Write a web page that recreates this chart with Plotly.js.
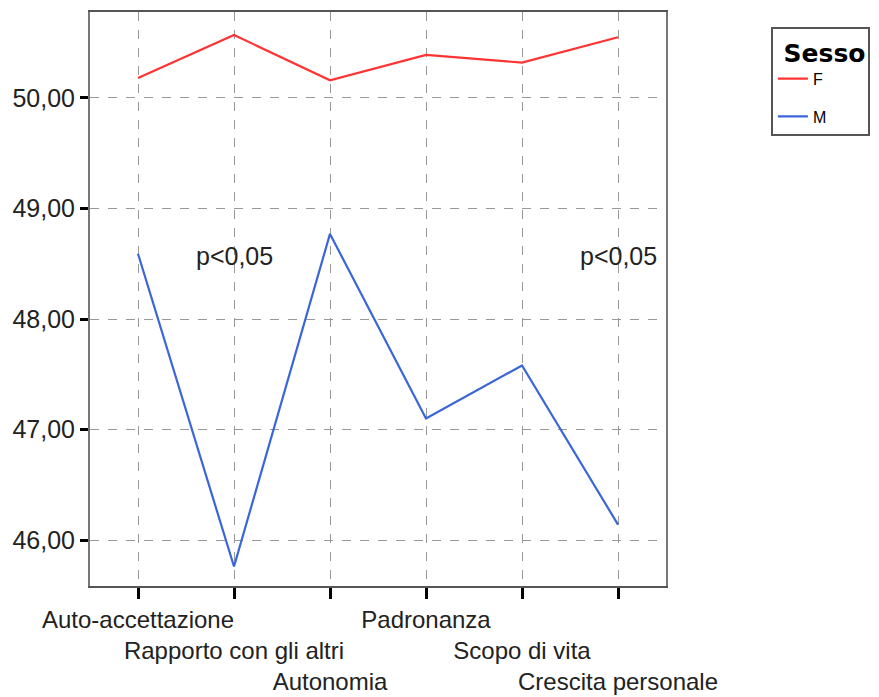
<!DOCTYPE html>
<html>
<head>
<meta charset="utf-8">
<script src="https://cdn.plot.ly/plotly-3.0.1.min.js"></script>
<style>html,body{margin:0;padding:0;background:#fff;}#chart{width:879px;height:697px;}</style>
</head>
<body>
<div id="chart"></div>
<script>
var categories = ["Auto-accettazione", "Rapporto con gli altri", "Autonomia", "Padronanza", "Scopo di vita", "Crescita personale"];
var tickRows = [0, 1, 2, 0, 1, 2];
var valuesF = [50.18, 50.57, 50.16, 50.39, 50.32, 50.55];
var valuesM = [48.59, 45.76, 48.77, 47.10, 47.58, 46.14];
var seriesNames = ["F", "M"];
var yTicks = [46, 47, 48, 49, 50];
var notes = [{cat: 1, y: 48.57, text: "p<0,05"}, {cat: 5, y: 48.57, text: "p<0,05"}];

var idx = categories.map(function(c, i){ return i; });
var ticktext = categories.map(function(c, i){
  var pre = ""; for (var k = 0; k < tickRows[i]; k++) pre += "<br>";
  return pre + c;
});
var FONT = "Liberation Sans, Arial, sans-serif";

var traces = [
  {x: idx, y: valuesF, name: seriesNames[0], legendgroup: "F", type: "scatter", mode: "lines",
   line: {color: "#ff3333", width: 2.2}},
  {x: idx, y: valuesM, name: seriesNames[1], legendgroup: "M", type: "scatter", mode: "lines",
   line: {color: "#3a66d9", width: 2.2}}
];

var annotations = notes.map(function(n){
  return {x: n.cat, y: n.y, xref: "x", yref: "y", text: n.text, showarrow: false,
          font: {family: FONT, size: 25, color: "#222"}, xanchor: "center", yanchor: "middle"};
});

var layout = {
  width: 879, height: 697,
  margin: {l: 90, r: 213, t: 12, b: 111, pad: 0, autoexpand: false},
  paper_bgcolor: "#ffffff", plot_bgcolor: "#ffffff",
  separators: ",.",
  showlegend: true,
  font: {family: FONT, size: 25, color: "#222"},
  xaxis: {
    range: [-0.5, 5.5], tickmode: "array", tickvals: idx, ticktext: ticktext, tickangle: 0,
    ticks: "outside", ticklen: 11, tickwidth: 3, tickcolor: "#000",
    showgrid: true, gridcolor: "#999", griddash: "dash", gridwidth: 1,
    showline: true, linecolor: "#555", linewidth: 2, mirror: true,
    zeroline: false, tickfont: {family: FONT, size: 24, color: "#222"},
    fixedrange: true, automargin: false
  },
  yaxis: {
    range: [45.584, 50.778], tickmode: "array", tickvals: yTicks, tickformat: ".2f",
    ticks: "outside", ticklen: 8, tickwidth: 3, tickcolor: "#000",
    showgrid: true, gridcolor: "#999", griddash: "dash", gridwidth: 1,
    showline: true, linecolor: "#777", linewidth: 2, mirror: true,
    zeroline: false, tickfont: {family: FONT, size: 25, color: "#222"},
    fixedrange: true, automargin: false
  },
  legend: {
    xref: "container", yref: "container",
    x: 0.877, y: 0.961, xanchor: "left", yanchor: "top",
    bgcolor: "#ffffff", bordercolor: "#555", borderwidth: 2,
    title: {text: "<b>&nbsp;Sesso</b>", font: {family: "DejaVu Sans, sans-serif", size: 25, color: "#000"}},
    font: {family: FONT, size: 16, color: "#000"},
    tracegroupgap: 14
  },
  annotations: annotations
};

Plotly.newPlot("chart", traces, layout, {displayModeBar: false, staticPlot: true});
</script>
</body>
</html>
